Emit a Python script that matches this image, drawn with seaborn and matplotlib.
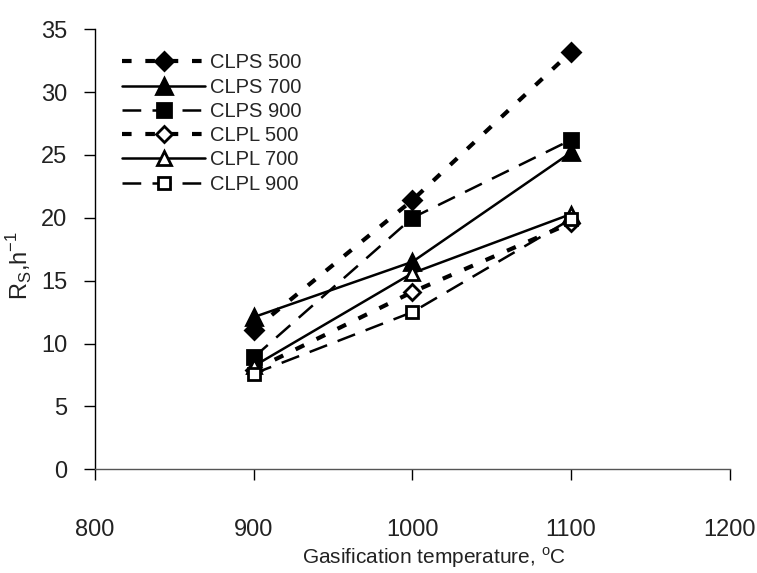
import matplotlib
matplotlib.use("Agg")
import matplotlib.pyplot as plt
import seaborn as sns
import pandas as pd

# Datos
temperaturas = [900, 1000, 1100]
series = ["CLPS 500", "CLPS 700", "CLPS 900", "CLPL 500", "CLPL 700", "CLPL 900"]
clps_500 = [11.1, 21.4, 33.2]
clps_700 = [12.1, 16.5, 25.2]
clps_900 = [8.9, 20.0, 26.2]
clpl_500 = [7.9, 14.1, 19.6]
clpl_700 = [8.2, 15.6, 20.3]
clpl_900 = [7.6, 12.5, 19.9]

valores = [clps_500, clps_700, clps_900, clpl_500, clpl_700, clpl_900]
datos = pd.DataFrame(
    [(s, t, v) for s, vals in zip(series, valores) for t, v in zip(temperaturas, vals)],
    columns=["serie", "temperatura", "rs"],
)

sns.set_theme(style="white")
plt.rcParams["font.family"] = ["Liberation Sans", "DejaVu Sans"]

# Estilos por serie
estilo = {
    "CLPS 500": dict(marker="D", ms=9, lw=3.0, ls=(0, (2.3, 3.3)), mfc="black"),
    "CLPS 700": dict(marker="^", ms=11, lw=1.8, ls="-", mfc="black"),
    "CLPS 900": dict(marker="s", ms=10, lw=1.8, ls=(0, (7.5, 4.5)), mfc="black"),
    "CLPL 500": dict(marker="D", ms=8, lw=3.0, ls=(0, (2.3, 3.3)), mfc="white"),
    "CLPL 700": dict(marker="^", ms=10, lw=1.8, ls="-", mfc="white"),
    "CLPL 900": dict(marker="s", ms=9, lw=1.8, ls=(0, (7.5, 4.5)), mfc="white"),
}

fig, ax = plt.subplots(figsize=(7.57, 5.73), dpi=100)
fig.subplots_adjust(left=0.1255, right=0.964, top=0.949, bottom=0.181)

for s in series:
    d = datos[datos["serie"] == s]
    e = estilo[s]
    sns.lineplot(data=d, x="temperatura", y="rs", ax=ax, color="black",
                 marker=e["marker"], markersize=e["ms"], linewidth=e["lw"],
                 linestyle=e["ls"], markerfacecolor=e["mfc"],
                 markeredgecolor="black", markeredgewidth=2, label=s)

ax.set_xlim(800, 1200)
ax.set_ylim(0, 35)
ax.set_xticks([800, 900, 1000, 1100, 1200])
ax.set_yticks(range(0, 36, 5))

for lado in ["top", "right"]:
    ax.spines[lado].set_visible(False)
ax.spines["left"].set_color("black")
ax.spines["left"].set_linewidth(1.0)
ax.spines["bottom"].set_color("#555555")
ax.spines["bottom"].set_linewidth(1.0)

ax.tick_params(axis="x", direction="out", length=8, width=1, pad=28,
               labelsize=17, colors="black", bottom=True)
ax.tick_params(axis="y", direction="out", length=8, width=1, pad=12,
               labelsize=17, colors="black", left=True)
for t in ax.get_xticklabels() + ax.get_yticklabels():
    t.set_color("#222222")

ax.set_xlabel("Gasification temperature, $^{\\mathregular{o}}$C", fontsize=15, color="#222222")
ax.xaxis.set_label_coords(0.534, -0.172)
ax.set_ylabel("R$_{\\mathregular{S}}$,h$^{\\mathregular{-1}}$", fontsize=17, color="#222222")
ax.yaxis.set_label_coords(-0.095, 0.464)

ax.legend(loc="upper left", bbox_to_anchor=(0.043, 0.945), frameon=False,
          fontsize=14.5, handlelength=4.1, handletextpad=0.25, labelspacing=0.26,
          borderpad=0, borderaxespad=0, numpoints=1)

fig.savefig("out.png", dpi=100)
